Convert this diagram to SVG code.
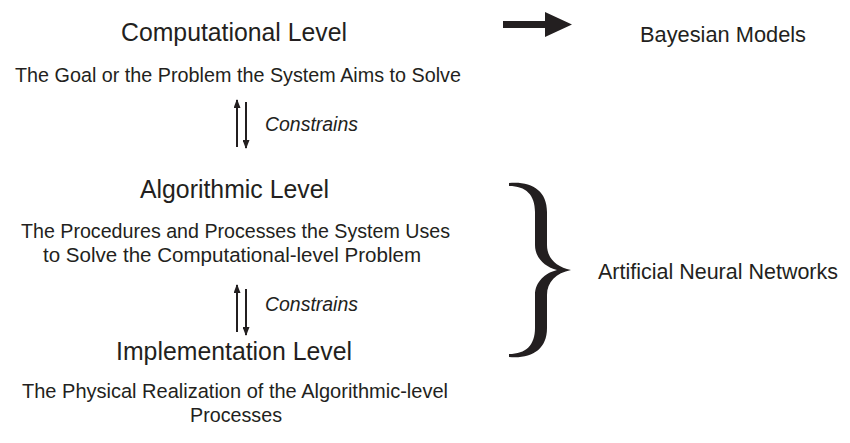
<svg xmlns="http://www.w3.org/2000/svg" width="850" height="443" viewBox="0 0 850 443">
<defs>
<style>
text{font-family:"Liberation Sans Narrow","Liberation Sans",Arial,sans-serif;fill:#231f20}
.title{font-size:26.5px}
.desc{font-size:20.5px}
.con{font-size:20px;font-style:italic}
.side{font-size:21.5px}
.ln{stroke:#231f20;stroke-width:2;fill:none}
</style>
<marker id="ah" viewBox="0 0 9 7" refX="8" refY="3.5" markerWidth="9" markerHeight="7" orient="auto" markerUnits="userSpaceOnUse">
<path d="M0,0 L9,3.5 L0,7 Z" fill="#231f20"/>
</marker>
</defs>
<rect width="850" height="443" fill="#fff"/>
<g id="computational">
<text class="title" x="121" y="41" textLength="226" lengthAdjust="spacingAndGlyphs">Computational Level</text>
<text class="desc" x="15" y="82" textLength="446" lengthAdjust="spacingAndGlyphs">The Goal or the Problem the System Aims to Solve</text>
</g>
<g id="algorithmic">
<text class="title" x="140" y="198" textLength="189" lengthAdjust="spacingAndGlyphs">Algorithmic Level</text>
<text class="desc" x="21" y="238" textLength="429" lengthAdjust="spacingAndGlyphs">The Procedures and Processes the System Uses</text>
<text class="desc" x="43" y="262" textLength="378" lengthAdjust="spacingAndGlyphs">to Solve the Computational-level Problem</text>
</g>
<g id="implementation">
<text class="title" x="116" y="360" textLength="236" lengthAdjust="spacingAndGlyphs">Implementation Level</text>
<text class="desc" x="22" y="398" textLength="426" lengthAdjust="spacingAndGlyphs">The Physical Realization of the Algorithmic-level</text>
<text class="desc" x="190" y="422" textLength="92" lengthAdjust="spacingAndGlyphs">Processes</text>
</g>
<g id="bayesian">
<text class="side" x="640" y="42" textLength="166" lengthAdjust="spacingAndGlyphs">Bayesian Models</text>
</g>
<g id="ann">
<text class="side" x="598" y="279" textLength="240" lengthAdjust="spacingAndGlyphs">Artificial Neural Networks</text>
</g>
<g id="connectors">
<line class="ln" x1="237" y1="147" x2="237" y2="100" marker-end="url(#ah)"/>
<line class="ln" x1="246" y1="102" x2="246" y2="148" marker-end="url(#ah)"/>
<text class="con" x="265" y="131" textLength="93" lengthAdjust="spacingAndGlyphs">Constrains</text>
<line class="ln" x1="237" y1="332" x2="237" y2="285" marker-end="url(#ah)"/>
<line class="ln" x1="246" y1="289" x2="246" y2="335" marker-end="url(#ah)"/>
<text class="con" x="265" y="311" textLength="93" lengthAdjust="spacingAndGlyphs">Constrains</text>
<path d="M503,21 L545,21 L545,12 L572,24.5 L545,37 L545,28 L503,28 Z" fill="#231f20"/>
<path d="M509,183 C531,181 547,190 547,212 L547,245 C547,258 556,267 571,270 C556,273 547,282 547,295 L547,328 C547,350 531,359 509,357 L509,354 C526,354 535,345 535,328 L535,295 C535,282 545,273 557,270 C545,267 535,258 535,245 L535,212 C535,195 526,186 509,186 Z" fill="#231f20"/>
</g>
</svg>
